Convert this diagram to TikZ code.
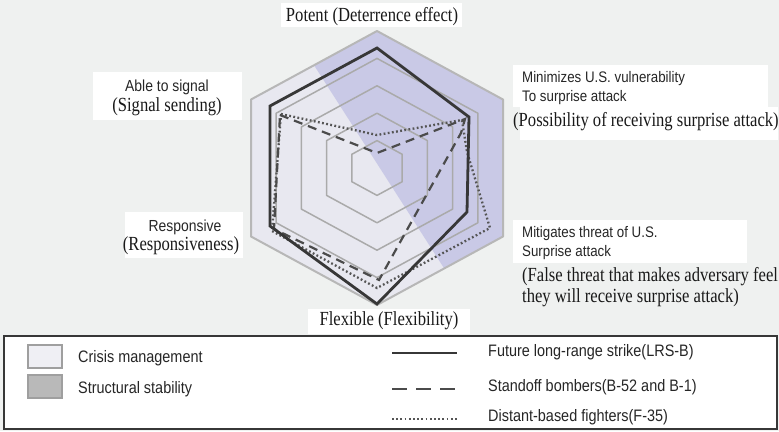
\documentclass[tikz,border=0pt]{standalone}
\usepackage{fontspec}
\setmainfont{Liberation Serif}[FakeStretch=0.83]
\newfontfamily\lblsans{Liberation Sans}[FakeStretch=0.87]
\usetikzlibrary{positioning}

\definecolor{bggray}{RGB}{239,241,240}
\definecolor{crisisfill}{RGB}{232,232,240}
\definecolor{stabfill}{RGB}{201,201,230}
\definecolor{gridgray}{RGB}{170,170,170}
\definecolor{darkline}{RGB}{55,55,55}

\tikzset{
  gridline/.style={color=gridgray, line width=1.5pt, line join=round},
  lrsb/.style={color=darkline, line width=2.8pt, line join=miter},
  standoff/.style={color=darkline!90, line width=2.2pt, dash pattern=on 9pt off 6pt},
  fighter/.style={color=darkline!85, line width=2.3pt, dash pattern=on 1.8pt off 2.4pt},
  seriflbl/.style={font=\fontsize{20}{21}\selectfont, inner sep=0pt, text=black!90},
  sanslbl/.style={font=\lblsans\fontsize{16}{19}\selectfont, inner sep=0pt, align=left, text=black!85},
  legendlbl/.style={sanslbl, font=\lblsans\fontsize{16.6}{19}\selectfont},
}

\begin{document}
\begin{tikzpicture}[x=1pt,y=-1pt]
\useasboundingbox (0,0) rectangle (779,431);
\fill[bggray] (0,0) rectangle (779,431);

% the two halves of the chart
\fill[crisisfill] (314,65.25) -- (251,99.5) -- (251,236.5) -- (377,305) -- (444,268.2) -- cycle;
\fill[stabfill] (314,65.25) -- (377,31) -- (503,99.5) -- (503,236.5) -- (444,268.2) -- cycle;

% grid
\draw[gridline] (377,140.6) -- (402.2,154.3) -- (402.2,181.7) -- (377,195.4) -- (351.8,181.7) -- (351.8,154.3) -- cycle;
\draw[gridline] (377,113.2) -- (427.4,140.6) -- (427.4,195.4) -- (377,222.8) -- (326.6,195.4) -- (326.6,140.6) -- cycle;
\draw[gridline] (377,85.8) -- (452.6,126.9) -- (452.6,209.1) -- (377,250.2) -- (301.4,209.1) -- (301.4,126.9) -- cycle;
\draw[gridline] (377,58.4) -- (477.8,113.2) -- (477.8,222.8) -- (377,277.6) -- (276.2,222.8) -- (276.2,113.2) -- cycle;
\draw[gridline, line width=2pt, color=gridgray!85] (377,31) -- (503,99.5) -- (503,236.5) -- (377,305) -- (251,236.5) -- (251,99.5) -- cycle;

% data
\coordinate (f1) at (377,135);
\coordinate (f2) at (462,120);
\coordinate (f3) at (467,152);
\coordinate (f4) at (490,228);
\coordinate (f5) at (377,288);
\coordinate (f6) at (272,231);
\coordinate (f7) at (281,114);
\draw[fighter] (f7) -- (f1) -- (f2) -- (f3) -- (f4) -- (f5) -- (f6) -- cycle;

\coordinate (d1) at (377,153);
\coordinate (d2) at (465,119);
\coordinate (d3) at (461,133);
\coordinate (d4) at (379,280);
\coordinate (d5) at (274,229);
\coordinate (d6) at (280,115);
\draw[standoff] (d6) -- (d1) -- (d2) -- (d3) -- (d4) -- (d5) -- cycle;

\coordinate (s1) at (377,48);
\coordinate (s2) at (469,117);
\coordinate (s3) at (467,212);
\coordinate (s4) at (377,304);
\coordinate (s5) at (270,226);
\coordinate (s6) at (270,106);
\draw[lrsb] (s1) -- (s2) -- (s3) -- (s4) -- (s5) -- (s6) -- cycle;

% labels
\fill[white] (281,3) rectangle (462,27);
\node[seriflbl] (potent) at (372,17) {Potent (Deterrence effect)};

\fill[white] (93,72) rectangle (242,120);
\node[sanslbl] (signal) at (167,87) {Able to signal};
\node[seriflbl] (signalx) at (167,107) {(Signal sending)};

\fill[white] (125,212) rectangle (243,258);
\node[sanslbl] (respons) at (185,227) {Responsive};
\node[seriflbl] (responsx) at (181,246) {(Responsiveness)};

\fill[white] (513,65) rectangle (768,107);
\fill[white] (520,107) rectangle (778,140);
\node[sanslbl, font=\lblsans\fontsize{15.3}{19}\selectfont, anchor=west] (minim) at (522,88) {Minimizes U.S. vulnerability\\To surprise attack};
\node[seriflbl, anchor=west] (minimx) at (513,122) {(Possibility of receiving surprise attack)};

\fill[white] (513,220) rectangle (747,263);
\node[sanslbl, font=\lblsans\fontsize{15.3}{19}\selectfont, anchor=west] (mitig) at (522,243) {Mitigates threat of U.S.\\Surprise attack};
\node[seriflbl, anchor=west, align=left] (mitigx) at (522,287) {(False threat that makes adversary feel\\they will receive surprise attack)};

\fill[white] (308,309) rectangle (470,334);
\node[seriflbl] (flex) at (389,321) {Flexible (Flexibility)};

% legend
\draw[color=darkline, line width=2pt, fill=white] (4,336) rectangle (777,429);
\draw[color=gray!75, line width=2pt, fill=crisisfill!70!white] (28,345) rectangle (62,368);
\draw[color=gray!75, line width=2pt, fill=gray!55] (28,375) rectangle (62,398);
\node[legendlbl, anchor=west] (crisis) at (78,358) {Crisis management};
\node[legendlbl, anchor=west] (stab) at (78,389) {Structural stability};

\coordinate (ls1) at (392,353);
\coordinate (ls2) at (457,353);
\coordinate (ld1) at (392,389);
\coordinate (ld2) at (457,389);
\coordinate (lf1) at (392,419);
\coordinate (lf2) at (457,419);
\draw[lrsb] (ls1) -- (ls2);
\draw[standoff, dash pattern=on 15pt off 9pt, line width=2.6pt] (ld1) -- (ld2);
\draw[fighter] (lf1) -- (lf2);
\node[legendlbl, anchor=west] (lrsbtxt) at (488,352) {Future long-range strike(LRS-B)};
\node[legendlbl, anchor=west] (standtxt) at (488,387) {Standoff bombers(B-52 and B-1)};
\node[legendlbl, anchor=west] (fightxt) at (488,417) {Distant-based fighters(F-35)};

\end{tikzpicture}
\end{document}
